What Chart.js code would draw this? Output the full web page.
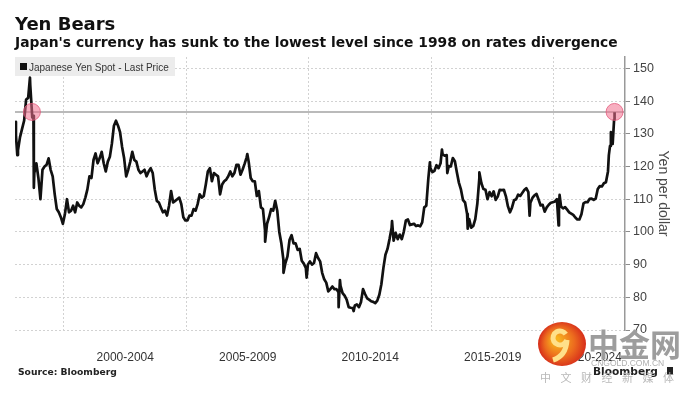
<!DOCTYPE html>
<html>
<head>
<meta charset="utf-8">
<script src="https://cdn.jsdelivr.net/npm/chart.js@4.4.1/dist/chart.umd.min.js"></script>
<style>
  html, body { margin: 0; padding: 0; background: #fff; }
  #wrap { width: 692px; height: 395px; }
</style>
</head>
<body>
<div id="wrap"><canvas id="yenChart" width="692" height="395"></canvas></div>
<script>
// ---- data (USD/JPY, yen per dollar), mid-month readings per year ----
const firstYear = 1998;
const yen1998 = [129.5, 125.0, 129.0, 131.5, 134.0, 140.5, 141.0, 145.0, 135.0, 118.0, 121.0, 116.5];
const yen1999 = [110.0, 119.0, 120.0, 120.5, 122.5, 119.0, 117.0, 111.5, 107.0, 106.0, 104.5, 102.5];
const yen2000 = [105.5, 110.0, 106.0, 106.5, 108.0, 106.0, 109.0, 108.0, 107.5, 108.5, 110.5, 113.0];
const yen2001 = [117.0, 116.5, 122.0, 124.0, 121.0, 122.5, 124.5, 121.0, 118.5, 121.5, 123.0, 127.0];
const yen2002 = [132.5, 134.0, 132.5, 130.5, 126.0, 122.5, 117.0, 119.0, 121.5, 124.5, 122.0, 121.5];
const yen2003 = [119.0, 118.0, 118.5, 119.0, 117.0, 118.5, 119.5, 118.0, 113.0, 109.5, 109.0, 107.5];
const yen2004 = [106.0, 106.5, 105.0, 108.0, 112.5, 109.0, 109.5, 110.0, 110.5, 108.5, 104.5, 103.5];
const yen2005 = [103.5, 105.0, 105.0, 107.0, 106.5, 108.5, 111.5, 110.5, 111.0, 114.5, 118.5, 119.5];
const yen2006 = [115.5, 118.0, 117.5, 117.0, 111.5, 114.5, 115.5, 116.0, 117.0, 118.5, 117.0, 118.0];
const yen2007 = [120.5, 120.5, 117.5, 119.0, 120.8, 122.8, 121.5, 116.5, 115.5, 115.5, 111.0, 112.5];
const yen2008 = [107.5, 107.0, 100.5, 102.5, 104.5, 107.0, 106.5, 109.5, 106.5, 100.0, 96.5, 91.5];
const yen2009 = [90.5, 92.5, 97.5, 99.0, 96.5, 96.5, 94.5, 94.8, 91.2, 90.3, 89.0, 90.0];
const yen2010 = [91.0, 90.0, 90.5, 93.5, 92.0, 91.0, 87.5, 85.5, 84.5, 81.8, 82.5, 83.3];
const yen2011 = [82.5, 82.5, 81.5, 83.5, 81.3, 80.5, 79.3, 77.0, 76.8, 76.7, 77.5, 77.8];
const yen2012 = [77.0, 78.5, 82.5, 81.0, 79.7, 79.3, 78.8, 78.6, 78.2, 79.0, 80.8, 84.0];
const yen2013 = [89.0, 93.0, 94.8, 97.8, 101.2, 97.3, 99.7, 97.8, 99.2, 97.8, 100.1, 103.5];
const yen2014 = [103.8, 102.1, 102.3, 102.5, 101.8, 102.0, 101.7, 102.9, 107.5, 108.0, 116.3, 119.5];
const yen2015 = [118.3, 118.7, 120.4, 119.5, 121.0, 123.7, 123.3, 123.5, 120.1, 120.0, 122.6, 121.6];
const yen2016 = [118.2, 115.0, 112.9, 109.7, 109.0, 105.5, 103.9, 101.3, 101.8, 103.9, 108.6, 116.5];
const yen2017 = [114.9, 113.1, 112.9, 110.0, 112.2, 110.9, 112.4, 109.8, 110.8, 112.9, 112.8, 112.9];
const yen2018 = [110.9, 107.8, 106.0, 107.5, 109.7, 110.0, 111.4, 111.0, 111.9, 112.8, 113.4, 112.2];
const yen2019 = [108.9, 110.4, 111.2, 111.6, 109.9, 108.1, 108.3, 106.2, 107.5, 108.3, 108.9, 109.1];
const yen2020 = [109.3, 110.0, 107.7, 107.8, 107.2, 107.6, 106.8, 106.0, 105.6, 105.2, 104.4, 103.8];
const yen2021 = [103.8, 105.4, 108.7, 109.1, 109.1, 110.1, 110.2, 109.8, 110.2, 113.1, 114.0, 113.9];
const yen2022 = [114.9, 115.2, 118.5, 126.3, 128.7, 134.3];

// extra readings for the spikes that monthly points miss
const extraDates = ['1998-01-01', '1998-02-05', '1998-08-11', '1998-10-02', '1998-10-08', '2007-06-25',
  '2008-03-17', '2008-12-17', '2009-11-27', '2011-03-17', '2011-04-06', '2011-10-28', '2013-05-22',
  '2014-12-08', '2015-06-05', '2015-08-24', '2016-06-24', '2016-12-15', '2019-01-03', '2020-03-09',
  '2020-03-24', '2022-03-28', '2022-04-28', '2022-05-24', '2022-06-22'];
const extraValues = [133.7, 123.5, 147.2, 135.5, 113.5, 123.8,
  97.0, 87.5, 86.0, 77.0, 85.3, 75.8, 103.3,
  121.3, 125.2, 118.0, 101.0, 118.2, 105.0, 102.0,
  111.3, 123.5, 130.5, 126.9, 136.6];

const periodLabels = ['2000-2004', '2005-2009', '2010-2014', '2015-2019', '2020-2024'];
const yenTicks = [70, 80, 90, 100, 110, 120, 130, 140, 150];
const levelNow = 136.7;
const markerDates = ['1998-09-10', '2022-06-22'];

const titleText = 'Yen Bears';
const subtitleText = "Japan's currency has sunk to the lowest level since 1998 on rates divergence";
const seriesName = 'Japanese Yen Spot - Last Price';
const axisTitle = 'Yen per dollar';
const sourceText = 'Source: Bloomberg';

//=====================================================================
const X_MIN = 1998, X_MAX = 2022.9;
const SANS = '"Liberation Sans", Arial, sans-serif';
const DEJA = '"DejaVu Sans", Verdana, sans-serif';

function toYear(s) {
  const p = s.split('-').map(Number);
  const d = p.length > 2 ? p[2] : 15;
  return p[0] + (p[1] - 1) / 12 + (d - 1) / 365;
}

const yearly = [yen1998, yen1999, yen2000, yen2001, yen2002, yen2003, yen2004, yen2005, yen2006,
  yen2007, yen2008, yen2009, yen2010, yen2011, yen2012, yen2013, yen2014, yen2015, yen2016,
  yen2017, yen2018, yen2019, yen2020, yen2021, yen2022];

let spot = [];
yearly.forEach((vals, i) => {
  vals.forEach((v, m) => {
    const mm = String(m + 1).padStart(2, '0');
    spot.push({x: toYear((firstYear + i) + '-' + mm), y: v});
  });
});
extraDates.forEach((d, i) => spot.push({x: toYear(d), y: extraValues[i]}));
spot.sort((a, b) => a.x - b.x);

const labelAt = {};
periodLabels.forEach((lab, i) => {
  const start = parseInt(lab);
  // last one sits left of the axis, like the original
  const pos = i === periodLabels.length - 1 ? 2021.6 : start + 2.5;
  labelAt[pos] = lab;
});

const overlay = {
  id: 'overlay',
  afterDraw(chart) {
    const c = chart.ctx;
    c.save();
    c.textAlign = 'left';
    c.textBaseline = 'alphabetic';
    c.fillStyle = '#111';
    c.font = 'bold 18px ' + DEJA;
    c.fillText(titleText, 15, 30);
    c.font = 'bold 13.85px ' + DEJA;
    c.fillText(subtitleText, 15, 47);

    // legend box
    c.fillStyle = '#ececec';
    c.fillRect(15, 57, 160, 19);
    c.fillStyle = '#111';
    c.fillRect(20, 63, 7, 7);
    c.fillStyle = '#333';
    c.font = '10px ' + SANS;
    c.fillText(seriesName, 29, 70.5);

    // source + logo
    c.fillStyle = '#222';
    c.font = 'bold 9.2px ' + DEJA;
    c.fillText(sourceText, 18, 375);
    c.font = 'bold 10.6px ' + DEJA;
    c.fillText('Bloomberg', 593, 375);
    c.fillRect(667, 367, 6, 8);

    // watermark
    const g = c.createRadialGradient(556, 340, 3, 562, 344, 23);
    g.addColorStop(0, '#f7b21e');
    g.addColorStop(0.6, '#ec6a1e');
    g.addColorStop(1, '#d8321b');
    c.fillStyle = g;
    c.beginPath();
    c.ellipse(562, 344, 24, 22, 0, 0, Math.PI * 2);
    c.fill();
    c.strokeStyle = '#ffe08a';
    c.lineWidth = 5;
    c.beginPath();
    c.arc(560, 338, 7, 0.3, Math.PI * 2 - 0.6);
    c.stroke();
    c.beginPath();
    c.moveTo(567, 340);
    c.quadraticCurveTo(566, 356, 553, 360);
    c.stroke();

    c.fillStyle = '#9d9d9d';
    c.font = 'bold 31px "Noto Sans CJK SC", sans-serif';
    c.fillText('中金网', 588, 356);
    c.fillStyle = '#b0b0b0';
    c.font = '8.5px ' + SANS;
    c.fillText('CNGOLD.COM.CN', 591, 366);
    c.font = '11px "Noto Sans CJK SC", sans-serif';
    c.fillStyle = '#b8b8b8';
    '中文财经新媒体'.split('').forEach((ch, i) => c.fillText(ch, 540 + i * 20.5, 382));
    c.restore();
  }
};

const ctx = document.getElementById('yenChart');

const spotDataset = {
  label: seriesName,
  data: spot,
  borderColor: '#111',
  borderWidth: 2.7,
  borderJoinStyle: 'round',
  pointRadius: 0,
  tension: 0,
  fill: false,
  order: 1
};

const levelDataset = {
  label: 'level',
  data: [{x: X_MIN, y: levelNow}, {x: X_MAX, y: levelNow}],
  borderColor: '#a3a3a3',
  borderWidth: 1.6,
  pointRadius: 0,
  fill: false,
  order: 2
};

const markerDataset = {
  label: 'markers',
  data: markerDates.map(d => ({x: toYear(d), y: levelNow})),
  showLine: false,
  pointRadius: 8.5,
  pointBackgroundColor: 'rgba(240,110,140,0.55)',
  pointBorderColor: 'rgba(225,85,120,0.75)',
  pointBorderWidth: 1,
  order: 0
};

const myChart = new Chart(ctx, {
  type: 'line',
  data: { datasets: [spotDataset, levelDataset, markerDataset] },
  options: {
    responsive: false,
    animation: false,
    layout: { padding: { left: 15, top: 57, right: 0, bottom: 25 } },
    plugins: { legend: { display: false }, tooltip: { enabled: false } },
    scales: {
      x: {
        type: 'linear',
        min: X_MIN,
        max: X_MAX,
        afterBuildTicks: (scale) => {
          const t = [];
          periodLabels.forEach(lab => t.push({value: parseInt(lab)}));
          Object.keys(labelAt).forEach(k => t.push({value: Number(k)}));
          t.sort((a, b) => a.value - b.value);
          scale.ticks = t;
        },
        afterFit: (scale) => { scale.height = 40; },
        grid: {
          drawTicks: false,
          color: (c) => (c.tick && Number.isInteger(c.tick.value)) ? '#d2d2d2' : 'rgba(0,0,0,0)',
          lineWidth: 1
        },
        border: { display: false, dash: [2, 2] },
        ticks: {
          autoSkip: false,
          maxRotation: 0,
          padding: 20,
          color: '#333',
          font: { family: SANS, size: 12 },
          callback: (v) => labelAt[v] || ''
        }
      },
      y: {
        position: 'right',
        min: 70,
        max: 153.5,
        afterBuildTicks: (scale) => {
          const t = [];
          yenTicks.forEach((v, i) => {
            t.push({value: v});
            if (i < yenTicks.length - 1) t.push({value: v + 5});
          });
          scale.ticks = t;
        },
        afterFit: (scale) => { scale.width = 67; },
        grid: {
          color: (c) => (c.tick && c.tick.value % 10 === 0) ? '#d2d2d2' : 'rgba(0,0,0,0)',
          tickColor: '#8c8c8c',
          tickLength: 5,
          lineWidth: 1
        },
        border: { display: true, color: '#999', width: 1.5, dash: [2, 2] },
        ticks: {
          padding: 3,
          color: '#444',
          font: { family: SANS, size: 12.5 },
          callback: (v) => (v % 10 === 0 ? String(v) : '')
        },
        title: {
          display: true,
          text: axisTitle,
          color: '#4a4a4a',
          font: { family: SANS, size: 14 },
          padding: { top: 21, bottom: 0 }
        }
      }
    }
  },
  plugins: [overlay]
});
</script>
</body>
</html>
